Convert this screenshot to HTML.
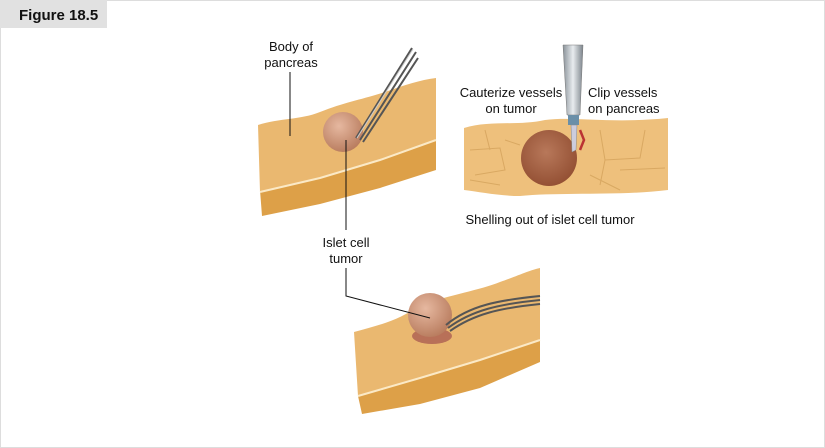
<!DOCTYPE html>
<html><head><style>
body{margin:0;background:#fff}
svg{display:block}
text{font-family:"Liberation Sans",sans-serif;font-size:13px;fill:#111}
</style></head><body>
<svg width="825" height="448" viewBox="0 0 825 448">
<defs>
<radialGradient id="t1" cx="0.4" cy="0.35" r="0.7"><stop offset="0" stop-color="#e6b8a0"/><stop offset="1" stop-color="#b77a5c"/></radialGradient>
<radialGradient id="t2" cx="0.45" cy="0.4" r="0.7"><stop offset="0" stop-color="#b8785a"/><stop offset="1" stop-color="#8e4a2e"/></radialGradient>
<linearGradient id="inst" x1="0" x2="1"><stop offset="0" stop-color="#8a9299"/><stop offset="0.5" stop-color="#e8ecef"/><stop offset="1" stop-color="#7d858c"/></linearGradient>
</defs>
<rect x="0.5" y="0.5" width="824" height="447" fill="#fff" stroke="#ddd"/>
<rect x="0" y="0" width="107" height="28" fill="#e1e1e1"/>
<text x="19" y="20" style="font-size:15px;font-weight:bold">Figure 18.5</text>

<!-- pancreas 1 -->
<path d="M262,216 L320,204 L380,188 L436,170 L436,140 L380,160 L320,178 L260,190 Z" fill="#dda048"/>
<path d="M258,125 C280,118 300,120 320,112 C345,102 360,100 385,92 C405,85 420,80 436,78 L436,140 L380,160 L320,178 L260,192 Z" fill="#eab870"/>
<path d="M260,192 L320,178 L380,160 L436,140" stroke="#fbe9c6" stroke-width="2" fill="none"/>
<circle cx="343" cy="132" r="20" fill="url(#t1)"/>
<path d="M356,138 L412,48 M360,140 L416,52 M363,142 L418,58" stroke="#555" stroke-width="2" fill="none"/>
<path d="M357,138 L413,49" stroke="#ccc" stroke-width="1" fill="none"/>

<!-- pancreas 2 -->
<path d="M464,128 C490,120 520,126 545,120 C575,116 610,124 668,118 L668,190 C620,196 560,192 520,196 C500,196 480,192 464,190 Z" fill="#eec07c"/>
<g stroke="#d9a862" stroke-width="1" fill="none">
<path d="M470,150 L500,148 L505,170 L475,175 M505,140 L520,145 M600,130 L605,160 L640,158 L645,130 M605,160 L600,185 M620,170 L665,168 M485,130 L490,150 M590,175 L620,190 M470,180 L500,185"/>
</g>
<circle cx="549" cy="158" r="28" fill="url(#t2)"/>
<path d="M563,45 L583,45 L580,115 L567,115 Z" fill="url(#inst)" stroke="#777" stroke-width="0.5"/>
<rect x="568" y="115" width="11" height="10" fill="#6a8fa8"/>
<path d="M571,125 L577,125 L576,150 L572,152 Z" fill="#ccd" stroke="#888" stroke-width="0.5"/>
<path d="M580,130 L584,140 L580,150" stroke="#b33" stroke-width="2.5" fill="none"/>

<!-- pancreas 3 -->
<path d="M358,396 L420,378 L480,360 L540,340 L540,362 L480,388 L420,404 L362,414 Z" fill="#dda048"/>
<path d="M354,332 C380,325 400,320 420,305 C450,295 480,290 500,282 C520,275 530,270 540,268 L540,340 L480,360 L420,378 L358,396 Z" fill="#eab870"/>
<path d="M358,396 L420,378 L480,360 L540,340" stroke="#fbe9c6" stroke-width="2" fill="none"/>
<ellipse cx="432" cy="336" rx="20" ry="8" fill="#b87058"/>
<circle cx="430" cy="315" r="22" fill="url(#t1)"/>
<path d="M446,325 C470,305 500,300 540,296 M448,328 C472,310 500,304 540,300 M450,331 C474,314 500,308 540,304" stroke="#555" stroke-width="2" fill="none"/>

<!-- leader lines -->
<g stroke="#111" stroke-width="1" fill="none">
<path d="M290,72 L290,136"/>
<path d="M346,140 L346,230"/>
<path d="M346,268 L346,296 L430,318"/>
</g>

<text x="291" y="51" text-anchor="middle">Body of</text>
<text x="291" y="67" text-anchor="middle">pancreas</text>
<text x="346" y="247" text-anchor="middle">Islet cell</text>
<text x="346" y="263" text-anchor="middle">tumor</text>
<text x="511" y="97" text-anchor="middle">Cauterize vessels</text>
<text x="511" y="113" text-anchor="middle">on tumor</text>
<text x="588" y="97">Clip vessels</text>
<text x="588" y="113">on pancreas</text>
<text x="550" y="224" text-anchor="middle">Shelling out of islet cell tumor</text>
</svg>
</body></html>
